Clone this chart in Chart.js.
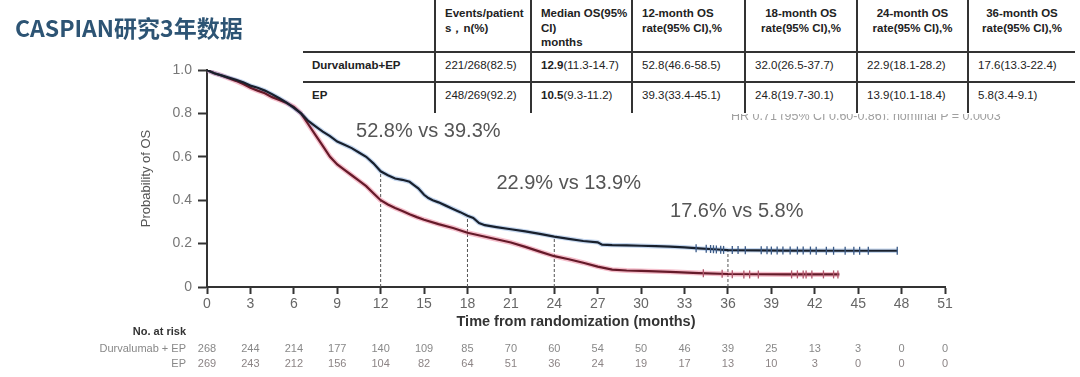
<!DOCTYPE html>
<html>
<head>
<meta charset="utf-8">
<script src="https://cdn.jsdelivr.net/npm/chart.js"></script>
<style>
  html, body { margin: 0; padding: 0; background: #fff; }
  body { width: 1080px; height: 377px; position: relative; overflow: hidden; font-family: Arial, "Liberation Sans", sans-serif; }
  #chartBox { position: absolute; left: 0; top: 0; width: 1080px; height: 377px; }
  #title { position: absolute; left: 15px; top: 10px; font: bold 23px "Noto Sans CJK SC", Arial, sans-serif; color: #2d5474; white-space: nowrap; }
  #hr { position: absolute; left: 731px; top: 114px; width: 340px; height: 6px; overflow: hidden; }
  #hr span { position: relative; top: -8px; font-size: 12.5px; color: #a0a0a0; white-space: nowrap; }
  #summary { position: absolute; left: 303px; top: 0; border-collapse: collapse; background: #fff; font-size: 11.5px; color: #222; table-layout: fixed; }
  #summary td { padding: 0 0 0 9px; white-space: nowrap; }
  #summary tr.head td { height: 52px; vertical-align: top; padding-top: 6px; line-height: 14.5px; font-weight: bold; box-sizing: border-box; }
  #summary tr.row1 td { height: 30px; border-top: 2px solid #333; box-sizing: border-box; padding-bottom: 4px; }
  #summary tr.row2 td { height: 31px; border-top: 2px solid #333; box-sizing: border-box; padding-bottom: 6px; }
  #summary td + td { border-left: 2px solid #333; }
  #summary td.c { text-align: center; padding-left: 0; }
  #summary td.name { font-weight: bold; }
</style>
</head>
<body>
<div id="chartBox"><canvas id="osChart" width="1080" height="377"></canvas></div>
<div id="title">CASPIAN研究3年数据</div>
<div id="hr"><span>HR 0.71 (95% CI 0.60-0.86); nominal P = 0.0003</span></div>
<table id="summary">
  <colgroup>
    <col style="width:132px"><col style="width:96px"><col style="width:101px"><col style="width:113px">
    <col style="width:112px"><col style="width:111px"><col style="width:107px">
  </colgroup>
  <tbody id="summaryBody"></tbody>
</table>
<script>
// --- Data ---
const groups = ['Durvalumab+EP', 'EP'];
const events = ['221/268(82.5)', '248/269(92.2)'];
const medianOS = ['12.9', '10.5'];
const medianCI = ['(11.3-14.7)', '(9.3-11.2)'];
const milestoneMonths = [12, 18, 24, 36];
const durvaRates = [52.8, 32.0, 22.9, 17.6];
const durvaRateCI = ['(46.6-58.5)', '(26.5-37.7)', '(18.1-28.2)', '(13.3-22.4)'];
const epRates = [39.3, 24.8, 13.9, 5.8];
const epRateCI = ['(33.4-45.1)', '(19.7-30.1)', '(10.1-18.4)', '(3.4-9.1)'];

// KM curves (months, probability of OS)
const durvaT = [0, 0.5, 1, 1.5, 2, 2.5, 3, 3.5, 4, 4.5, 5, 5.5, 6, 6.5, 7, 7.5, 8, 8.5, 9, 9.5, 10, 10.5, 11, 11.5, 12, 12.5, 13, 13.5, 14, 14.3, 14.6, 15, 15.3, 15.6, 16, 16.5, 17, 17.5, 18, 18.4, 18.8, 19.2, 20, 21, 22, 23, 24, 25, 26, 27, 27.3, 28, 29, 30, 31, 32, 33, 34, 35, 36, 38, 40, 44, 47.7];
const durvaS = [1, 0.985, 0.975, 0.965, 0.955, 0.943, 0.928, 0.918, 0.905, 0.888, 0.87, 0.85, 0.825, 0.8, 0.765, 0.74, 0.716, 0.695, 0.67, 0.655, 0.64, 0.62, 0.6, 0.57, 0.533, 0.515, 0.5, 0.494, 0.485, 0.47, 0.455, 0.425, 0.41, 0.4, 0.39, 0.375, 0.36, 0.345, 0.328, 0.318, 0.295, 0.285, 0.276, 0.266, 0.256, 0.245, 0.232, 0.222, 0.212, 0.206, 0.195, 0.193, 0.192, 0.19, 0.188, 0.186, 0.183, 0.178, 0.174, 0.17, 0.169, 0.168, 0.167, 0.167];
const epT = [0, 0.5, 1, 1.5, 2, 2.5, 3, 3.5, 4, 4.5, 5, 5.5, 6, 6.5, 7, 7.5, 8, 8.5, 9, 9.5, 10, 10.5, 11, 11.5, 12, 12.5, 13, 13.5, 14, 14.5, 15, 16, 17, 18, 19, 20, 21, 22, 23, 24, 25, 26, 27, 28, 29, 30, 32, 34, 36, 40, 43.7];
const epS = [1, 0.985, 0.975, 0.962, 0.95, 0.935, 0.918, 0.905, 0.893, 0.875, 0.862, 0.848, 0.83, 0.8, 0.75, 0.7, 0.65, 0.6, 0.565, 0.54, 0.515, 0.49, 0.465, 0.432, 0.4, 0.38, 0.364, 0.35, 0.335, 0.322, 0.31, 0.29, 0.272, 0.25, 0.235, 0.22, 0.205, 0.185, 0.163, 0.142, 0.128, 0.112, 0.094, 0.08, 0.076, 0.074, 0.07, 0.064, 0.06, 0.058, 0.058];

// censor marks
const durvaCensorT = [33.8, 34.5, 34.8, 35.0, 35.2, 35.5, 35.7, 36.3, 36.7, 37.2, 38.3, 38.7, 39.0, 39.4, 39.8, 40.3, 40.8, 41.2, 41.7, 42.1, 42.8, 43.3, 44.1, 44.7, 45.1, 45.7, 47.7];
const durvaCensorS = [0.179, 0.176, 0.175, 0.174, 0.173, 0.172, 0.171, 0.17, 0.17, 0.169, 0.169, 0.169, 0.168, 0.168, 0.168, 0.168, 0.168, 0.168, 0.168, 0.167, 0.167, 0.167, 0.167, 0.167, 0.167, 0.167, 0.167];
const epCensorT = [34.3, 35.6, 36.3, 37.1, 37.5, 38.1, 40.4, 40.8, 41.2, 41.4, 41.8, 42.6, 43.3, 43.6];
const epCensorS = [0.063, 0.061, 0.059, 0.058, 0.058, 0.058, 0.058, 0.058, 0.058, 0.058, 0.058, 0.058, 0.058, 0.058];

// number at risk
const riskMonths = [0, 3, 6, 9, 12, 15, 18, 21, 24, 27, 30, 33, 36, 39, 42, 45, 48, 51];
const riskDurva = [268, 244, 214, 177, 140, 109, 85, 70, 60, 54, 50, 46, 39, 25, 13, 3, 0, 0];
const riskEP = [269, 243, 212, 156, 104, 82, 64, 51, 36, 24, 19, 17, 13, 10, 3, 0, 0, 0];

// --- Summary table ---
function buildTable() {
    const body = document.getElementById('summaryBody');
    let html = '<tr class="head">' +
        '<td></td>' +
        '<td>Events/patient<br>s，n(%)</td>' +
        '<td>Median OS(95%<br>CI)<br>months</td>' +
        milestoneMonths.map((m, i) =>
            `<td${i > 0 ? ' class="c"' : ''}>${m}-month OS<br>rate(95% CI),%</td>`).join('') +
        '</tr>';
    groups.forEach((g, gi) => {
        const rates = gi === 0 ? durvaRates : epRates;
        const cis = gi === 0 ? durvaRateCI : epRateCI;
        html += `<tr class="row${gi + 1}"><td class="name">${g}</td><td>${events[gi]}</td>` +
            `<td><b>${medianOS[gi]}</b>${medianCI[gi]}</td>` +
            rates.map((r, i) => `<td>${r.toFixed(1)}${cis[i]}</td>`).join('') + '</tr>';
    });
    body.innerHTML = html;
}
buildTable();

// --- Chart helpers ---
const toPoints = (t, s) => t.map((v, i) => ({ x: v, y: s[i] }));
const FONT = '"Liberation Sans", Arial, sans-serif';

const overlayPlugin = {
    id: 'overlay',
    afterDraw(chart) {
        const { ctx, scales: { x, y } } = chart;
        ctx.save();
        // milestone rate labels
        const anchors = [[0, 10.3, 0.717], [2, 20.0, 0.477], [3, 32.0, 0.348]];
        ctx.font = '20px ' + FONT;
        ctx.fillStyle = '#555';
        ctx.textBaseline = 'middle';
        ctx.textAlign = 'left';
        anchors.forEach(([i, mx, my]) => {
            ctx.fillText(`${durvaRates[i].toFixed(1)}% vs ${epRates[i].toFixed(1)}%`, x.getPixelForValue(mx), y.getPixelForValue(my));
        });
        // number at risk
        ctx.textAlign = 'right';
        ctx.font = 'bold 11px ' + FONT;
        ctx.fillStyle = '#333';
        ctx.fillText('No. at risk', 186, 332);
        ctx.font = '11px ' + FONT;
        ctx.fillStyle = '#888';
        ctx.fillText('Durvalumab + EP', 186, 349);
        ctx.fillText('EP', 186, 364);
        ctx.textAlign = 'center';
        riskMonths.forEach((m, i) => {
            const px = x.getPixelForValue(m);
            ctx.fillStyle = '#888';
            ctx.fillText(String(riskDurva[i]), px, 349);
            ctx.fillStyle = '#8c8485';
            ctx.fillText(String(riskEP[i]), px, 364);
        });
        ctx.restore();
    }
};

const dashedSets = milestoneMonths.map((m, i) => ({
    type: 'line',
    data: [{ x: m, y: 0 }, { x: m, y: durvaRates[i] / 100 }],
    borderColor: '#555',
    borderWidth: 1,
    borderDash: [3, 2],
    pointRadius: 0,
    order: 20
}));

const censorStyle = (color) => ({
    type: 'line',
    showLine: false,
    pointStyle: 'line',
    rotation: 90,
    pointRadius: 4,
    pointBorderWidth: 1.3,
    pointBorderColor: color,
    pointBackgroundColor: color
});

new Chart(document.getElementById('osChart'), {
    type: 'line',
    data: {
        datasets: [
            ...dashedSets,
            { data: toPoints(epT, epS), borderColor: 'rgba(232,110,140,0.45)', borderWidth: 5, pointRadius: 0, order: 11 },
            { data: toPoints(durvaT, durvaS), borderColor: 'rgba(90,140,210,0.35)', borderWidth: 4.5, pointRadius: 0, order: 10 },
            { data: toPoints(epT, epS), borderColor: '#651a29', borderWidth: 2.2, pointRadius: 0, order: 5 },
            { data: toPoints(durvaT, durvaS), borderColor: '#18202d', borderWidth: 2.2, pointRadius: 0, order: 4 },
            { data: toPoints(epCensorT, epCensorS), ...censorStyle('#b0566b'), order: 2 },
            { data: toPoints(durvaCensorT, durvaCensorS), ...censorStyle('#3b5a86'), order: 1 }
        ]
    },
    options: {
        responsive: false,
        animation: false,
        layout: { padding: { left: 135, top: 70, right: 135, bottom: 46 } },
        plugins: { legend: { display: false }, tooltip: { enabled: false } },
        elements: { line: { tension: 0 } },
        scales: {
            x: {
                type: 'linear', min: 0, max: 51,
                ticks: { stepSize: 3, autoSkip: false, maxRotation: 0, padding: 2, color: '#666', font: { size: 14, family: FONT } },
                grid: { drawOnChartArea: false, drawTicks: true, tickLength: 7, tickColor: '#333', tickWidth: 2 },
                border: { display: true, color: '#333', width: 2 },
                title: { display: true, text: 'Time from randomization (months)', color: '#333', padding: 0, font: { size: 14.5, weight: 'bold', family: FONT } },
                afterFit: s => { s.height = 44; }
            },
            y: {
                min: 0, max: 1,
                ticks: { stepSize: 0.2, padding: 6, color: '#777', font: { size: 14, family: FONT }, callback: v => v === 0 ? '0' : v.toFixed(1) },
                grid: { drawOnChartArea: false, drawTicks: true, tickLength: 9, tickColor: '#333', tickWidth: 2 },
                border: { display: true, color: '#333', width: 2 },
                title: { display: true, text: 'Probability of OS', color: '#555', padding: { top: 4, bottom: 0 }, font: { size: 13, family: FONT } },
                afterFit: s => { s.width = 72; }
            }
        }
    },
    plugins: [overlayPlugin]
});
</script>
</body>
</html>
